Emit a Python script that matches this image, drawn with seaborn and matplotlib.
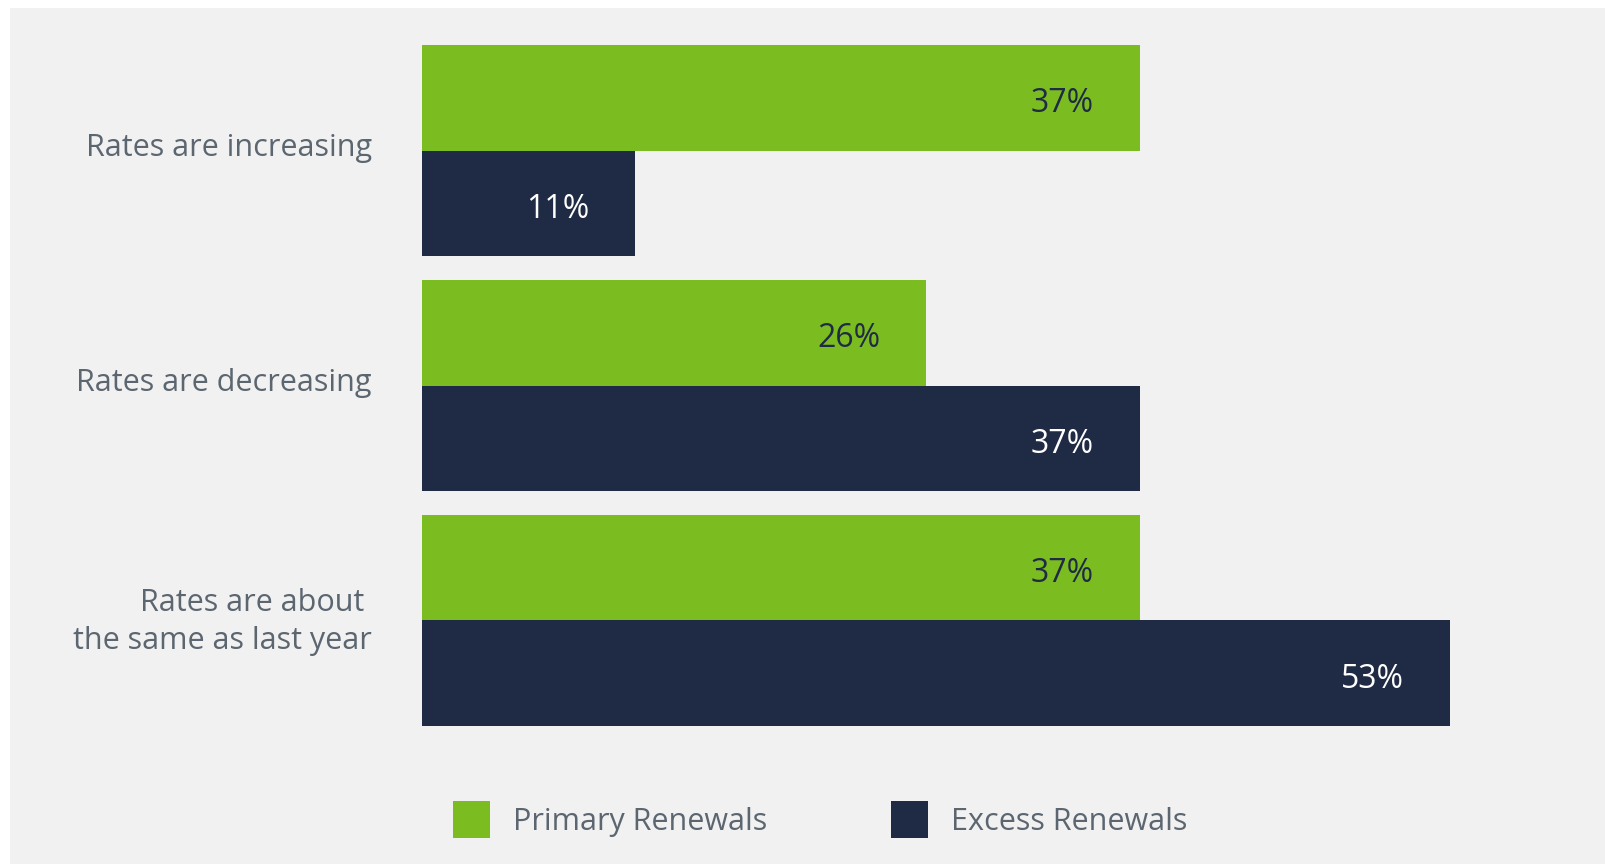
import matplotlib
matplotlib.use("Agg")
import matplotlib.pyplot as plt
import matplotlib.transforms as mtransforms
from matplotlib.patches import Patch, Rectangle
import pandas as pd
import seaborn as sns

categories = [
    "Rates are increasing",
    "Rates are decreasing",
    "Rates are about \nthe same as last year",
]
series_names = ["Primary Renewals", "Excess Renewals"]
primary_values = [37, 26, 37]
excess_values = [11, 37, 53]

GREEN = "#7bbd20"
NAVY = "#1f2a44"
PANEL = "#f1f1f1"
LABEL_GRAY = "#5c6670"

sns.set_theme(style="white")
plt.rcParams["font.family"] = ["Open Sans", "DejaVu Sans"]

df = pd.DataFrame({
    "category": categories * 2,
    "series": [series_names[0]] * 3 + [series_names[1]] * 3,
    "value": primary_values + excess_values,
})

W, H = 1605, 864
fig = plt.figure(figsize=(W / 100, H / 100), dpi=100, facecolor="white")

# light panel behind the chart
fig.patches.append(Rectangle((10 / W, 0), 1 - 10 / W, 1 - 8 / H,
                             transform=fig.transFigure, facecolor=PANEL,
                             edgecolor="none", zorder=-10))

ax = fig.add_axes([421.7 / W, 1 - 737.8 / H, 1164 / W, 704.4 / H])
ax.set_facecolor("none")

sns.barplot(data=df, y="category", x="value", hue="series", orient="h",
            order=categories, hue_order=series_names,
            palette=[GREEN, NAVY], saturation=1, width=0.9, dodge=True,
            linewidth=0, errorbar=None, legend=False, ax=ax)

ax.set_xlim(0, 60)
ax.set_ylim(2.5, -0.5)
for s in ax.spines.values():
    s.set_visible(False)
ax.set_xticks([])
ax.set_xlabel("")
ax.set_ylabel("")
ax.tick_params(axis="y", length=0, pad=36)
lift = mtransforms.ScaledTranslation(0, 6 / 100, fig.dpi_scale_trans)
for lbl in ax.get_yticklabels():
    lbl.set_fontsize(22)
    lbl.set_color(LABEL_GRAY)
    lbl.set_multialignment("right")
    lbl.set_linespacing(1.35)
    lbl.set_transform(lbl.get_transform() + lift)

# value labels inside bar ends
for container, vals, tcolor in zip(ax.containers,
                                   [primary_values, excess_values],
                                   [NAVY, "white"]):
    for bar, v in zip(container, vals):
        yc = bar.get_y() + bar.get_height() / 2
        ax.annotate(f"{v}%", xy=(v, yc), xytext=(-46, -6),
                    textcoords="offset pixels", ha="right", va="center",
                    fontsize=23, color=tcolor)

handles = [Patch(facecolor=GREEN, edgecolor="none"),
           Patch(facecolor=NAVY, edgecolor="none")]
fs = 22
fs_px = fs * 100 / 72
box = 37 / fs_px
leg = fig.legend(handles, series_names, loc="center left",
                 bbox_to_anchor=(453 / W, 1 - 819.5 / H), ncol=2,
                 frameon=False, fontsize=fs, borderpad=0, borderaxespad=0,
                 handlelength=box, handleheight=(box - 0.245) / 0.65,
                 handletextpad=23 / fs_px, columnspacing=124 / fs_px)
for t in leg.get_texts():
    t.set_color(LABEL_GRAY)

fig.savefig("out.png", dpi=100, facecolor="white")
